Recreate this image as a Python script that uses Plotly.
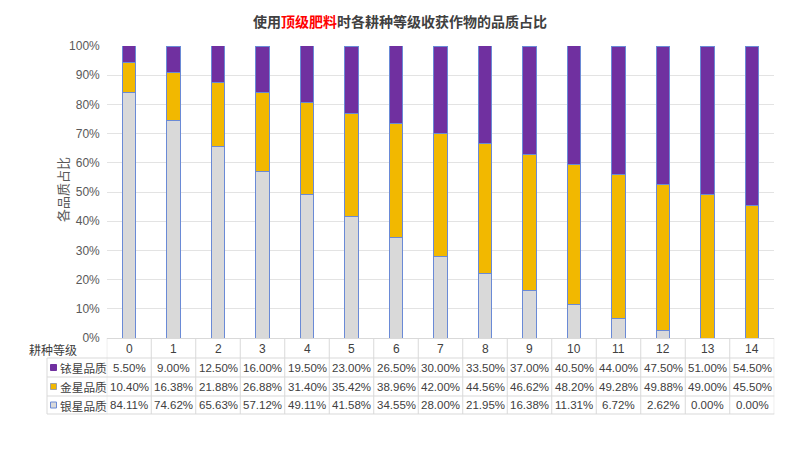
import plotly.graph_objects as go

categories = list(range(15))
series_names = ["铱星品质", "金星品质", "银星品质"]
iridium = [5.50, 9.00, 12.50, 16.00, 19.50, 23.00, 26.50, 30.00, 33.50, 37.00, 40.50, 44.00, 47.50, 51.00, 54.50]
gold = [10.40, 16.38, 21.88, 26.88, 31.40, 35.42, 38.96, 42.00, 44.56, 46.62, 48.20, 49.28, 49.88, 49.00, 45.50]
silver = [84.11, 74.62, 65.63, 57.12, 49.11, 41.58, 34.55, 28.00, 21.95, 16.38, 11.31, 6.72, 2.62, 0.00, 0.00]
y_ticks = list(range(0, 101, 10))

W, H = 800, 450
COLORS = {"铱星品质": "#7030A0", "金星品质": "#F2B800", "银星品质": "#D9D9D9"}
KEY_BORDER = {"铱星品质": "#7030A0", "金星品质": "#A0A0A0", "银星品质": "#6A8AD6"}
EDGE = "#6A8AD6"
GRID = "#E3E3E3"
TXT = "#404040"
FONT = "Noto Sans CJK SC"
NUMFONT = "Liberation Sans, Arial, Noto Sans CJK SC"

def px(x):
    return x / W

def py(y):
    return 1 - y / H

plot_left, plot_right = 106.75, 774.25
plot_top, plot_bottom = 46, 338
row_lines = [358, 377, 396, 414]
key_left = 47

fig = go.Figure()
for name, vals in [("银星品质", silver), ("金星品质", gold), ("铱星品质", iridium)]:
    fig.add_trace(go.Bar(
        x=categories, y=vals, name=name, width=0.3,
        marker=dict(color=COLORS[name], line=dict(color=EDGE, width=1)),
        showlegend=False, hoverinfo="skip"))

shapes = []
annotations = []

# table vertical lines at category boundaries
for i in range(len(categories) + 1):
    shapes.append(dict(type="line", xref="x", yref="paper",
                       x0=i - 0.5, x1=i - 0.5, y0=py(plot_bottom), y1=py(row_lines[-1]),
                       line=dict(color="#D9D9D9", width=1)))
# left key column vertical line
shapes.append(dict(type="line", xref="paper", yref="paper",
                   x0=px(key_left), x1=px(key_left), y0=py(row_lines[0]), y1=py(row_lines[-1]),
                   line=dict(color="#D9D9D9", width=1)))
# horizontal lines
for yl in row_lines:
    shapes.append(dict(type="line", xref="paper", yref="paper",
                       x0=px(key_left), x1=px(plot_right), y0=py(yl), y1=py(yl),
                       line=dict(color="#D9D9D9", width=1)))

# header row: category labels
header_y = (plot_bottom + row_lines[0]) / 2 + 1
for c in categories:
    annotations.append(dict(x=c, y=py(header_y), xref="x", yref="paper",
                            text=str(c), showarrow=False, yanchor="middle",
                            font=dict(family=NUMFONT, size=12, color=TXT)))
annotations.append(dict(x=px(79), y=py(header_y), xref="paper", yref="paper",
                        text="耕种等级", showarrow=False, xanchor="right", yanchor="middle",
                        font=dict(family=FONT, size=12, color=TXT)))

rows = [("铱星品质", iridium), ("金星品质", gold), ("银星品质", silver)]
for r, (name, vals) in enumerate(rows):
    yc = (row_lines[r] + row_lines[r + 1]) / 2
    for c, v in zip(categories, vals):
        annotations.append(dict(x=c, y=py(yc), xref="x", yref="paper",
                                text=f"{v:.2f}%", showarrow=False, yanchor="middle",
                                font=dict(family=NUMFONT, size=11.5, color=TXT)))
    annotations.append(dict(x=px(58), y=py(yc), xref="paper", yref="paper",
                            text=name, showarrow=False, xanchor="left", yanchor="middle",
                            font=dict(family=FONT, size=11.7, color=TXT)))
    shapes.append(dict(type="rect", xref="paper", yref="paper",
                       x0=px(50.5), x1=px(56.5), y0=py(yc - 3), y1=py(yc + 3),
                       fillcolor=COLORS[name], line=dict(color=KEY_BORDER[name], width=1)))

# y axis title
annotations.append(dict(x=px(62), y=py(190), xref="paper", yref="paper",
                        text="各品质占比", textangle=-90, showarrow=False,
                        xanchor="center", yanchor="middle",
                        font=dict(family=FONT, size=13, color="#595959")))

fig.update_layout(
    width=W, height=H,
    margin=dict(l=0, r=0, t=0, b=0, autoexpand=False),
    paper_bgcolor="white", plot_bgcolor="white",
    barmode="stack",
    showlegend=False,
    title=dict(text='<b>使用<span style="color:#FF0000">顶级肥料</span>时各耕种等级收获作物的品质占比</b>',
               x=0.5, xanchor="center", y=py(22), yanchor="middle", automargin=False,
               font=dict(family=FONT, size=14, color="#404040")),
    xaxis=dict(domain=[px(plot_left), px(plot_right)], range=[-0.5, 14.5],
               showticklabels=False, ticks="", showgrid=False, zeroline=False,
               showline=True, linecolor="#D9D9D9", fixedrange=True, automargin=False),
    yaxis=dict(domain=[py(plot_bottom), py(plot_top)], range=[0, 100],
               tickvals=y_ticks, ticktext=[f"{t}%" for t in y_ticks],
               showgrid=True, gridcolor=GRID, gridwidth=1, zeroline=False,
               showline=False, ticks="", ticklabelstandoff=6, automargin=False,
               tickfont=dict(family=NUMFONT, size=12, color="#595959")),
    shapes=shapes, annotations=annotations,
    font=dict(family=FONT),
)

fig.write_html("out.html")
